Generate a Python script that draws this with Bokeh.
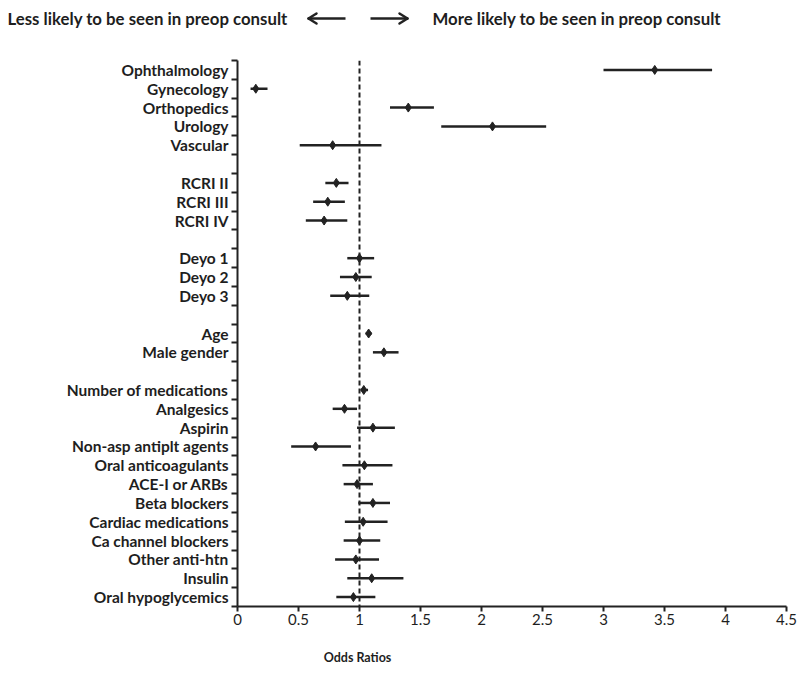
from bokeh.plotting import figure
from bokeh.layouts import column
from bokeh.models import Range1d, FixedTicker, Span, ColumnDataSource
from bokeh.core.properties import value
from bokeh.embed import file_html
from bokeh.resources import INLINE

nan = float("nan")

# rows from top to bottom; "" = spacer row
labels = ["Ophthalmology", "Gynecology", "Orthopedics", "Urology", "Vascular", "",
          "RCRI II", "RCRI III", "RCRI IV", "",
          "Deyo 1", "Deyo 2", "Deyo 3", "",
          "Age", "Male gender", "",
          "Number of medications", "Analgesics", "Aspirin", "Non-asp antiplt agents",
          "Oral anticoagulants", "ACE-I or ARBs", "Beta blockers", "Cardiac medications",
          "Ca channel blockers", "Other anti-htn", "Insulin", "Oral hypoglycemics"]
odds = [3.42, 0.15, 1.40, 2.09, 0.78, nan,
        0.81, 0.74, 0.71, nan,
        1.00, 0.97, 0.90, nan,
        1.075, 1.20, nan,
        1.035, 0.877, 1.11, 0.64, 1.04, 0.98, 1.11, 1.03, 1.00, 0.97, 1.10, 0.95]
ci_low = [3.00, 0.107, 1.25, 1.67, 0.51, nan,
          0.72, 0.62, 0.56, nan,
          0.90, 0.84, 0.76, nan,
          1.05, 1.11, nan,
          1.01, 0.78, 0.98, 0.44, 0.86, 0.87, 0.99, 0.88, 0.87, 0.80, 0.90, 0.81]
ci_high = [3.89, 0.246, 1.61, 2.53, 1.18, nan,
           0.91, 0.88, 0.90, nan,
           1.12, 1.10, 1.08, nan,
           1.10, 1.32, nan,
           1.07, 0.98, 1.29, 0.93, 1.27, 1.11, 1.25, 1.23, 1.17, 1.16, 1.36, 1.13]
x_ticks = [0, 0.5, 1, 1.5, 2, 2.5, 3, 3.5, 4, 4.5]
x_tick_labels = ["0", "0.5", "1", "1.5", "2", "2.5", "3", "3.5", "4", "4.5"]
header_left = "Less likely to be seen in preop consult"
header_right = "More likely to be seen in preop consult"
x_title = "Odds Ratios"

rows = list(range(len(labels)))
src = ColumnDataSource(dict(y=rows, odds=odds, lo=ci_low, hi=ci_high))

FONT = "Lato"
TXT = "#1e1e1e"
LINE = "#222222"
W = 800
HEAD_H, MAIN_H, FOOT_H = 40, 600, 33


def blank_fig(h):
    f = figure(width=W, height=h, output_backend="svg", toolbar_location=None,
               x_range=Range1d(0, W), y_range=Range1d(h, 0),
               x_axis_type=None, y_axis_type=None, min_border=0,
               frame_align=False)
    f.outline_line_color = None
    f.xgrid.grid_line_color = None
    f.ygrid.grid_line_color = None
    return f


# ---- header with direction hints ----
head = blank_fig(HEAD_H)
hy = 18
head.text(x=[7, 432], y=[hy, hy], text=[header_left, header_right],
          text_font=value(FONT), text_font_style="bold", text_font_size="16.8px",
          text_color=TXT, text_baseline="middle", text_align="left")
# left arrow (tip at 308), right arrow (tip at 407)
head.segment(x0=[308, 370], x1=[345, 407], y0=[hy, hy], y1=[hy, hy],
             line_color=LINE, line_width=2.5)
head.segment(x0=[308, 308, 407, 407], x1=[316, 316, 399, 399],
             y0=[hy, hy, hy, hy], y1=[hy - 5, hy + 5, hy - 5, hy + 5],
             line_color=LINE, line_width=2.5, line_cap="round")

# ---- main forest plot ----
p = figure(width=W, height=MAIN_H, output_backend="svg", toolbar_location=None,
           x_range=Range1d(0, 4.5), y_range=Range1d(len(labels) - 0.5, -0.5),
           min_border_left=237, min_border_right=14, min_border_top=20,
           min_border_bottom=34, frame_align=False)
p.outline_line_color = None
p.xgrid.grid_line_color = None
p.ygrid.grid_line_color = None

xa = p.xaxis[0]
xa.ticker = FixedTicker(ticks=x_ticks)
xa.major_label_overrides = {t: s for t, s in zip(x_ticks, x_tick_labels)}
xa.axis_line_width = 2
xa.axis_line_color = LINE
xa.major_tick_line_width = 2
xa.major_tick_line_color = LINE
xa.major_tick_in = 0
xa.major_tick_out = 5
xa.minor_tick_line_color = None
xa.major_label_text_font = FONT
xa.major_label_text_font_size = "15px"
xa.major_label_text_color = TXT
xa.major_label_standoff = 2

ya = p.yaxis[0]
ya.ticker = FixedTicker(ticks=rows, minor_ticks=[r - 0.5 for r in rows] + [rows[-1] + 0.5])
ya.major_label_overrides = {r: lab for r, lab in zip(rows, labels)}
ya.axis_line_width = 2
ya.axis_line_color = LINE
ya.major_tick_line_color = None
ya.major_tick_in = 0
ya.major_tick_out = 0
ya.minor_tick_line_color = LINE
ya.minor_tick_line_width = 2
ya.minor_tick_in = 0
ya.minor_tick_out = 6
ya.major_label_text_font = FONT
ya.major_label_text_font_style = "bold"
ya.major_label_text_font_size = "15.5px"
ya.major_label_text_color = TXT
ya.major_label_standoff = 3

p.add_layout(Span(location=1, dimension="height", line_color=LINE,
                  line_width=2, line_dash="5 3"))

p.segment(x0="lo", x1="hi", y0="y", y1="y", source=src,
          line_color=LINE, line_width=2.5)
p.scatter(x="odds", y="y", source=src, marker="diamond", size=9,
          fill_color=LINE, line_color=LINE)

# ---- footer with x-axis title ----
foot = blank_fig(FOOT_H)
foot.text(x=[357], y=[17], text=[x_title], text_font=value(FONT),
          text_font_style="bold", text_font_size="12.5px", text_color=TXT,
          text_align="center", text_baseline="middle")

layout = column(head, p, foot, spacing=0)
open("out.html", "w").write(file_html(layout, INLINE))
